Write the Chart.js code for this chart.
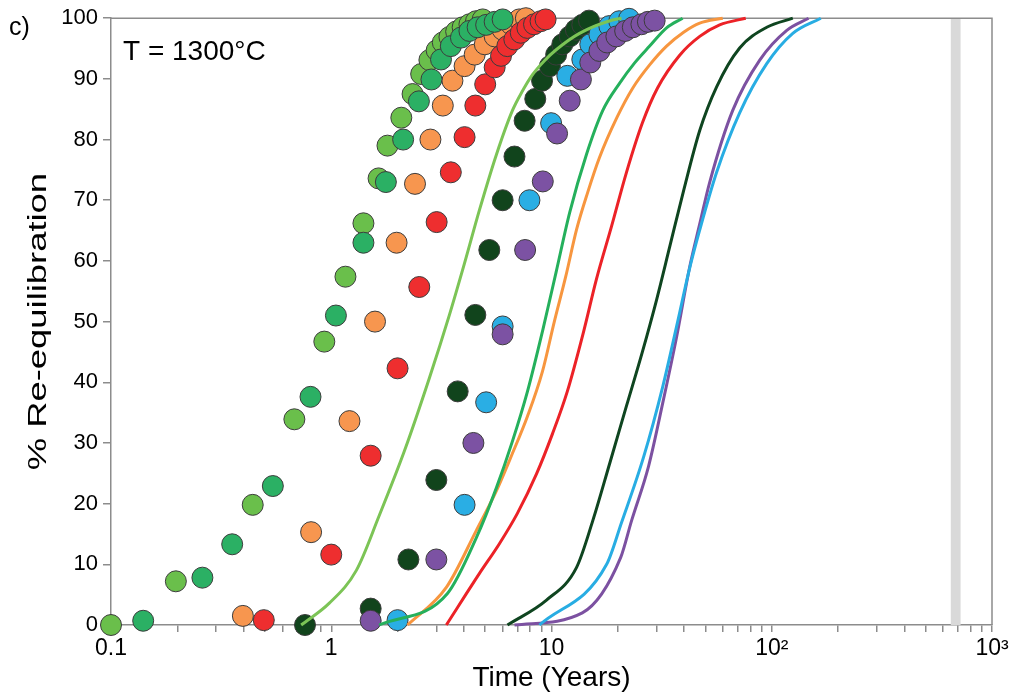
<!DOCTYPE html>
<html>
<head>
<meta charset="utf-8">
<script src="https://cdn.jsdelivr.net/npm/chart.js@4.4.1/dist/chart.umd.min.js"></script>
<style>
  html, body { margin: 0; padding: 0; background: #fff; }
  #wrap { width: 1013px; height: 698px; }
</style>
</head>
<body>
<div id="wrap"><canvas id="chart" width="1013" height="698"></canvas></div>
<script>
// measured points: [time (years), % re-equilibration]
const lightGreenPts = [[0.1,0],[0.197,7.2],[0.44,19.8],[0.68,33.9],[0.93,46.7],[1.16,57.4],[1.40,66.2],[1.64,73.6],[1.80,79],[2.08,83.6],[2.34,87.5],[2.56,90.8],[2.79,93.1],[3.01,94.7],[3.21,96],[3.44,96.9],[3.69,97.8],[3.95,98.5],[4.24,99],[4.54,99.5],[4.87,99.8]];
const greenPts = [[0.14,0.7],[0.26,7.8],[0.355,13.3],[0.543,22.9],[0.805,37.6],[1.05,51],[1.40,63],[1.77,73],[2.12,80],[2.50,86.3],[2.85,89.9],[3.15,93.2],[3.49,95.4],[3.88,96.8],[4.24,97.9],[4.62,98.5],[5.05,98.9],[5.52,99.4],[6.0,99.8]];
const orangePts = [[0.397,1.5],[0.81,15.3],[1.21,33.6],[1.58,50],[1.98,63],[2.40,72.7],[2.82,80],[3.21,85.6],[3.55,89.7],[4.03,92.1],[4.48,94],[4.98,95.7],[5.52,97],[6.0,98.1],[6.55,99],[7.14,99.8],[7.65,100]];
const redPts = [[0.494,0.8],[1.0,11.6],[1.51,27.9],[2.0,42.3],[2.51,55.7],[3.01,66.4],[3.49,74.6],[4.03,80.4],[4.51,85.6],[5.0,89.1],[5.52,91.9],[5.9,93.8],[6.3,95.4],[6.78,96.5],[7.25,97.6],[7.77,98.4],[8.33,99],[8.92,99.5],[9.4,99.8]];
const darkGreenPts = [[0.76,0],[1.51,2.7],[2.24,10.8],[3.0,23.9],[3.75,38.5],[4.51,51.1],[5.22,61.8],[6.0,70],[6.79,77.2],[7.55,83.1],[8.44,86.7],[9.06,89.7],[9.83,92.1],[10.5,94],[11.2,95.7],[12.1,97],[12.9,98.1],[13.8,98.9],[14.8,99.6]];
const bluePts = [[2.0,0.8],[4.03,19.8],[5.05,36.7],[6.0,49.2],[7.94,70],[9.96,82.7],[11.8,90.5],[13.8,93.2],[15.0,95.7],[16.5,97.3],[18.3,98.7],[20.3,99.5],[22.5,99.9]];
const purplePts = [[1.51,0.7],[3.0,10.8],[4.42,30],[6.0,47.9],[7.59,61.8],[9.13,73.1],[10.6,81],[12.1,86.4],[13.6,89.9],[15.0,92.7],[16.5,94.6],[17.9,96],[19.7,97],[21.6,97.9],[23.4,98.5],[25.6,99],[27.4,99.4],[29.4,99.6]];

// model curves
const lightGreenLine = [[0.73,0],[0.98,3.6],[1.30,9],[1.65,18],[2.15,28.7],[2.79,40.7],[3.44,51.1],[4.02,59.5],[4.71,68.4],[5.62,77.5],[6.65,84.8],[7.38,88],[8.2,90.7],[9.29,93],[10.5,94.8],[13.4,97.5],[18.9,99.7],[20.8,100]];
const greenLine = [[1.65,0],[3.37,5.2],[4.56,14.4],[5.62,22.6],[6.65,30.3],[7.78,38.5],[9.10,48.4],[10.5,58.2],[12.1,68],[14.4,77.5],[17.1,84.8],[20.4,89.3],[23.8,92.6],[27.9,95.4],[33.3,98.4],[39.4,100]];
const orangeLine = [[2.22,0],[3.33,6.2],[4.56,15.6],[5.62,22.1],[6.58,27.9],[7.78,34.4],[9.10,41.8],[10.3,50],[11.6,57.4],[13.0,65.2],[14.6,71.3],[16.5,77],[19.8,83.6],[23.4,88.5],[27.9,92.3],[33.3,95.4],[39.8,97.7],[47.1,99.2],[59.9,100]];
const redLine = [[3.33,0],[4.71,8.5],[5.8,13.4],[7.0,18.4],[8.55,24.9],[10.1,31.5],[11.8,38.5],[14.0,48.4],[16.0,57],[18.7,65.6],[21.9,74.6],[25.9,82.8],[30.3,88.5],[38.2,93.9],[47.1,97],[58,98.9],[76.2,100]];
const darkGreenLine = [[6.31,0],[9.49,4.1],[13.0,9.5],[15.4,17.2],[18.4,26.7],[21.9,36.1],[25.9,45.1],[30.0,53.6],[34.4,62.3],[39.8,71.6],[47.1,81.5],[56.2,88.7],[71.5,95.1],[94.9,98.5],[124.6,100]];
const blueLine = [[8.82,0],[17.8,10],[20.8,16.9],[26.2,27.7],[32.0,39.3],[37.4,50],[42.0,58.2],[47.1,65.1],[56.2,74.6],[71.5,84.4],[94.9,92.5],[124.6,97.5],[167,100]];
const purpleLine = [[6.79,0],[13.8,2],[20.6,11.1],[23.1,17.2],[27.6,26.2],[32.0,36.6],[37.0,47.5],[42.4,59],[47.1,66.1],[52.3,73],[66.5,84.8],[88.2,93.1],[117,98],[147,100]];

const xTickValues = [0.1, 1, 10, 100, 1000];
const xTickLabels = ['0.1', '1', '10', '10²', '10³'];
const bandRange = [650, 720];

const FONT = '"Liberation Sans", Arial, sans-serif';

function pts(list) {
    return list.map(p => ({x: p[0], y: p[1]}));
}

function dots(list, color, order) {
    return {
        type: 'scatter',
        data: pts(list),
        backgroundColor: color,
        borderColor: '#3c3c3c',
        borderWidth: 1,
        pointRadius: 10.5,
        pointHoverRadius: 10.5,
        clip: false,
        order: order
    };
}

function curve(list, color) {
    return {
        type: 'line',
        data: pts(list),
        borderColor: color,
        borderWidth: 3,
        pointRadius: 0,
        fill: false,
        cubicInterpolationMode: 'monotone',
        clip: 4,
        order: 0
    };
}

const frame = {
    id: 'frame',
    beforeDatasetsDraw(chart) {
        const {ctx, chartArea: a, scales: {x}} = chart;
        const x0 = x.getPixelForValue(bandRange[0]);
        const x1 = x.getPixelForValue(bandRange[1]);
        ctx.save();
        ctx.fillStyle = '#d9d9d9';
        ctx.fillRect(x0, a.top, x1 - x0, a.bottom - a.top);
        ctx.strokeStyle = '#8c8c8c';
        ctx.lineWidth = 1.5;
        ctx.beginPath();
        ctx.moveTo(a.left, a.top);
        ctx.lineTo(a.right, a.top);
        ctx.lineTo(a.right, a.bottom);
        ctx.stroke();
        ctx.restore();
    },
    afterDraw(chart) {
        const {ctx, chartArea: a} = chart;
        ctx.save();
        ctx.fillStyle = '#000';
        ctx.textBaseline = 'middle';
        ctx.font = '28px ' + FONT;
        ctx.fillText('T = 1300°C', a.left + 12, 52);
        ctx.font = '25px ' + FONT;
        ctx.fillText('c)', 9, 28);
        // y axis title, stretched along its length like the original
        ctx.translate(39, (a.top + a.bottom) / 2);
        ctx.rotate(-Math.PI / 2);
        ctx.scale(1.4, 1);
        ctx.textAlign = 'center';
        ctx.font = '26px ' + FONT;
        ctx.fillText('% Re-equilibration', 0, 0);
        ctx.restore();
    }
};

const ctx = document.getElementById('chart').getContext('2d');
new Chart(ctx, {
    type: 'scatter',
    data: {
        datasets: [
            curve(lightGreenLine, '#7cc456'),
            curve(greenLine, '#25b05c'),
            curve(orangeLine, '#f7963f'),
            curve(redLine, '#ec2227'),
            curve(darkGreenLine, '#0f4520'),
            curve(blueLine, '#28ade3'),
            curve(purpleLine, '#7c51a1'),
            dots(purplePts, '#7c52a3', 2),
            dots(bluePts, '#2aaee4', 3),
            dots(darkGreenPts, '#11441c', 4),
            dots(redPts, '#ee2e2f', 5),
            dots(greenPts, '#2bb064', 6),
            dots(orangePts, '#f7964f', 7),
            dots(lightGreenPts, '#6abf4b', 8)
        ]
    },
    options: {
        responsive: false,
        animation: false,
        devicePixelRatio: 1,
        layout: { padding: { top: 15, right: 21, left: 0, bottom: 0 } },
        plugins: { legend: { display: false }, tooltip: { enabled: false } },
        scales: {
            x: {
                type: 'logarithmic',
                min: 0.1,
                max: 1000,
                afterBuildTicks: (scale) => {
                    const ticks = [];
                    xTickValues.forEach((v, i) => {
                        ticks.push({value: v});
                        if (i < xTickValues.length - 1) {
                            for (let m = 2; m <= 9; m++) ticks.push({value: v * m});
                        }
                    });
                    scale.ticks = ticks;
                },
                afterFit: (scale) => { scale.height = 73; },
                ticks: {
                    autoSkip: false,
                    maxRotation: 0,
                    padding: 3,
                    color: '#000',
                    font: { family: FONT, size: 23 },
                    callback: (value) => {
                        const i = xTickValues.indexOf(value);
                        return i >= 0 ? xTickLabels[i] : '';
                    }
                },
                grid: { drawOnChartArea: false, tickLength: 7, color: '#8c8c8c', lineWidth: 1.5 },
                border: { color: '#8c8c8c', width: 1.5 },
                title: {
                    display: true,
                    text: 'Time (Years)',
                    color: '#000',
                    font: { family: FONT, size: 28 },
                    padding: { top: 0, bottom: 3 }
                }
            },
            y: {
                min: 0,
                max: 100,
                afterFit: (scale) => { scale.width = 111; },
                ticks: {
                    stepSize: 10,
                    padding: 5,
                    color: '#000',
                    font: { family: FONT, size: 22 }
                },
                grid: { drawOnChartArea: false, tickLength: 8, color: '#8c8c8c', lineWidth: 1.5 },
                border: { color: '#8c8c8c', width: 1.5 },
                title: { display: false }
            }
        }
    },
    plugins: [frame]
});
</script>
</body>
</html>
